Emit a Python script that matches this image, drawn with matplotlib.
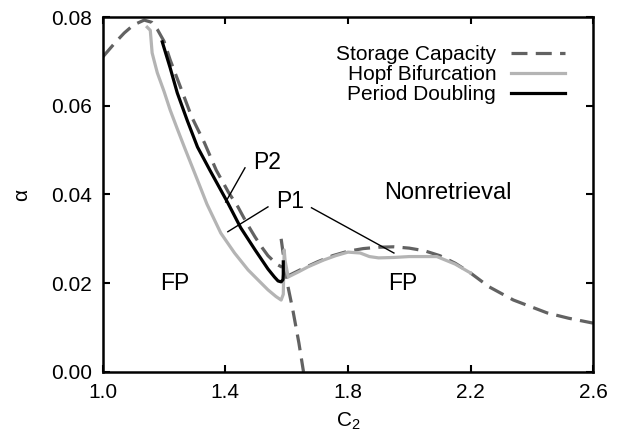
import matplotlib
matplotlib.use("Agg")
import matplotlib.pyplot as plt

plt.rcParams['font.family'] = ['Liberation Sans', 'DejaVu Sans']
plt.rcParams['font.size'] = 15

# storage capacity (three branches)
sc_left_x = [1.00, 1.04, 1.07, 1.10, 1.135, 1.16, 1.178, 1.20, 1.22, 1.26, 1.29,
             1.332, 1.37, 1.41, 1.441, 1.47, 1.497, 1.52, 1.539, 1.56, 1.572, 1.585]
sc_left_y = [0.071, 0.0742, 0.0764, 0.0782, 0.0793, 0.0788, 0.0772, 0.0745, 0.0703,
             0.063, 0.0575, 0.0516, 0.0455, 0.0405, 0.0372, 0.0335, 0.0304, 0.028,
             0.0262, 0.0248, 0.0241, 0.0236]
sc_mid_x = [1.582, 1.589, 1.597, 1.605, 1.62, 1.64, 1.655]
sc_mid_y = [0.0300, 0.0265, 0.0225, 0.019, 0.014, 0.0065, 0.0]
sc_right_x = [1.60, 1.65, 1.70, 1.75, 1.80, 1.85, 1.90, 1.95, 2.00, 2.05, 2.10,
              2.15, 2.20, 2.26, 2.34, 2.45, 2.52, 2.60]
sc_right_y = [0.0215, 0.0232, 0.0248, 0.0262, 0.0272, 0.0278, 0.0281, 0.0282,
              0.0279, 0.0273, 0.0262, 0.0245, 0.0223, 0.0192, 0.0162, 0.0133,
              0.0121, 0.0110]

# Hopf bifurcation
hopf_x = [1.145, 1.155, 1.161, 1.17, 1.178, 1.20, 1.22, 1.243, 1.266, 1.30, 1.34,
          1.385, 1.43, 1.474, 1.51, 1.539, 1.565, 1.582, 1.589, 1.592, 1.595,
          1.605, 1.64, 1.67, 1.72, 1.76, 1.80, 1.84, 1.87, 1.90, 1.95, 2.00,
          2.05, 2.09, 2.15, 2.20]
hopf_y = [0.0777, 0.0770, 0.0719, 0.0695, 0.0674, 0.0632, 0.059, 0.0548, 0.0507,
          0.0448, 0.0378, 0.0313, 0.0268, 0.0230, 0.0205, 0.0185, 0.0170, 0.0162,
          0.0175, 0.0275, 0.0250, 0.0214, 0.0226, 0.0237, 0.0252, 0.0262, 0.0270,
          0.0268, 0.0260, 0.0257, 0.0258, 0.0260, 0.0260, 0.0260, 0.0243, 0.0223]

# period doubling
pd_x = [1.194, 1.22, 1.243, 1.276, 1.309, 1.35, 1.408, 1.45, 1.497, 1.539,
        1.56, 1.572, 1.582, 1.588, 1.589, 1.589]
pd_y = [0.0744, 0.0685, 0.0629, 0.0566, 0.0507, 0.0454, 0.0381, 0.0325, 0.0275,
        0.0232, 0.0214, 0.0205, 0.0203, 0.0208, 0.0220, 0.0248]

fig = plt.figure(figsize=(6.23, 4.36), dpi=100)
ax = fig.add_axes([0.165, 0.147, 0.787, 0.814])

dash_c = '#626262'
hopf_c = '#b4b4b4'
dsh = (5, 2.6)
ax.plot(sc_left_x, sc_left_y, color=dash_c, lw=2.3, dashes=dsh,
        label="Storage Capacity")
ax.plot(sc_mid_x, sc_mid_y, color=dash_c, lw=2.3, dashes=dsh)
ax.plot(sc_right_x, sc_right_y, color=dash_c, lw=2.3, dashes=dsh)
ax.plot(hopf_x, hopf_y, color=hopf_c, lw=2.3, label="Hopf Bifurcation")
ax.plot(pd_x, pd_y, color='black', lw=2.3, label="Period Doubling")

# annotations
ax.plot([1.464, 1.401], [0.046, 0.0383], color='black', lw=1)
ax.plot([1.539, 1.408], [0.0372, 0.0316], color='black', lw=1)
ax.plot([1.681, 1.95], [0.037, 0.0268], color='black', lw=1)
ax.text(1.535, 0.0473, "P2", ha='center', va='center', fontsize=16.5)
ax.text(1.612, 0.0383, "P1", ha='center', va='center', fontsize=16.5)
ax.text(2.125, 0.0403, "Nonretrieval", ha='center', va='center', fontsize=17)
ax.text(1.234, 0.020, "FP", ha='center', va='center', fontsize=16.5)
ax.text(1.98, 0.020, "FP", ha='center', va='center', fontsize=16.5)

ax.set_xlim(1.0, 2.6)
ax.set_ylim(0.0, 0.08)
ax.set_xticks([1.0, 1.4, 1.8, 2.2, 2.6])
ax.set_xticklabels(["1.0", "1.4", "1.8", "2.2", "2.6"])
ax.set_yticks([0.0, 0.02, 0.04, 0.06, 0.08])
ax.set_yticklabels(["0.00", "0.02", "0.04", "0.06", "0.08"])
ax.tick_params(direction='in', top=True, right=True, length=5, width=1.5,
               labelsize=15, pad=8)
for s in ax.spines.values():
    s.set_linewidth(1.8)
ax.set_xlabel(r"$\mathregular{C_2}$", fontsize=15, labelpad=6)
ax.set_ylabel("α", fontsize=15, labelpad=14)

ax.legend(loc='upper right', frameon=False, markerfirst=False,
          handlelength=2.6, handletextpad=0.7, labelspacing=0.05,
          borderaxespad=0.95, fontsize=15)

fig.savefig("out.png", dpi=100)
